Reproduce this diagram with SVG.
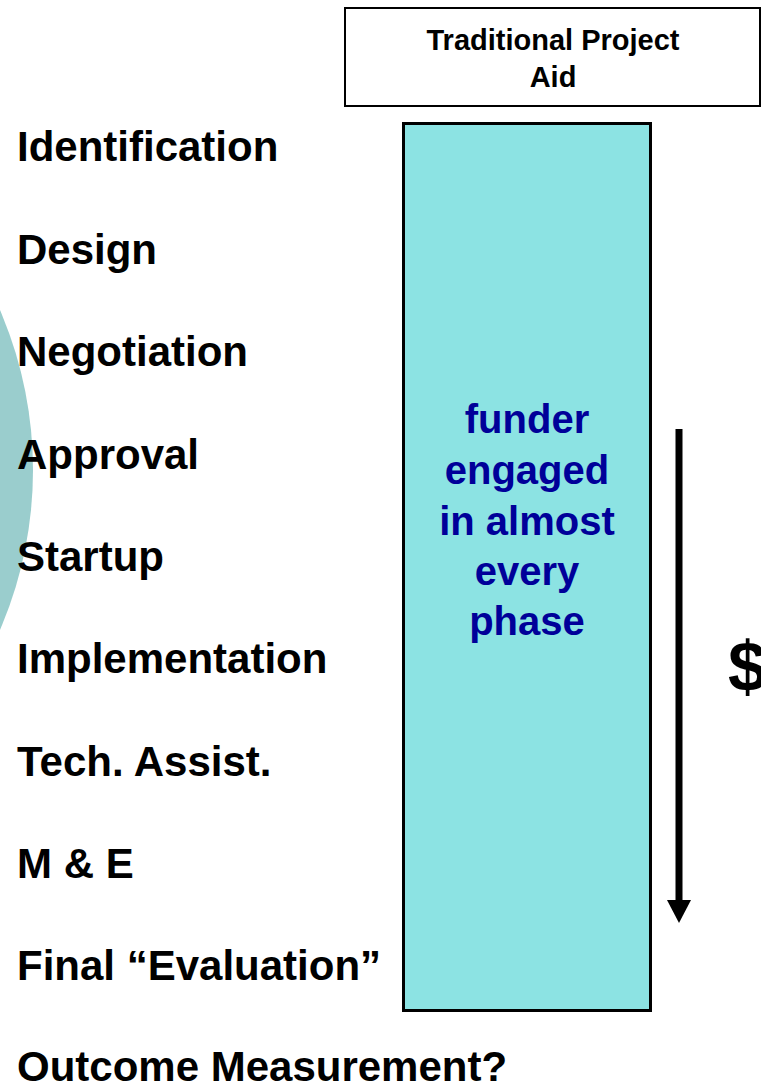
<svg xmlns="http://www.w3.org/2000/svg" width="761" height="1086" viewBox="0 0 761 1086">
<style>
.lbl{font-family:"Liberation Sans",Arial,sans-serif;font-weight:bold;font-size:42px;fill:#000}
.ttl{font-family:"Liberation Sans",Arial,sans-serif;font-weight:bold;font-size:29px;fill:#000;text-anchor:middle}
.ctr{font-family:"Liberation Sans",Arial,sans-serif;font-weight:bold;font-size:40px;fill:#000099;text-anchor:middle}
.dollar{font-family:"Liberation Sans",Arial,sans-serif;font-weight:bold;font-size:70px;fill:#000}
</style>
<rect width="761" height="1086" fill="#fff"/>
<g id="circle"><circle cx="-371" cy="470" r="404" fill="#9ACDCD"/></g>
<g id="title-box">
<rect x="345" y="8" width="415" height="98" fill="#fff" stroke="#000" stroke-width="2"/>
<text class="ttl" x="553" y="50">Traditional Project</text>
<text class="ttl" x="553" y="87">Aid</text>
</g>
<g id="phases">
<text class="lbl" x="17" y="161">Identification</text>
<text class="lbl" x="17" y="264">Design</text>
<text class="lbl" x="17" y="366">Negotiation</text>
<text class="lbl" x="17" y="469">Approval</text>
<text class="lbl" x="17" y="571">Startup</text>
<text class="lbl" x="17" y="673">Implementation</text>
<text class="lbl" x="17" y="776">Tech. Assist.</text>
<text class="lbl" x="17" y="878">M &amp; E</text>
<text class="lbl" x="17" y="980">Final “Evaluation”</text>
<text class="lbl" x="17" y="1081">Outcome Measurement?</text>
</g>
<g id="funder-bar">
<rect x="403.5" y="123.5" width="247" height="887" fill="#8CE3E3" stroke="#000" stroke-width="3"/>
<text class="ctr" x="527" y="433">funder</text>
<text class="ctr" x="527" y="484">engaged</text>
<text class="ctr" x="527" y="535">in almost</text>
<text class="ctr" x="527" y="585">every</text>
<text class="ctr" x="527" y="635">phase</text>
</g>
<g id="connectors">
<line x1="679" y1="429" x2="679" y2="902" stroke="#000" stroke-width="7"/>
<polygon points="667,900 691,900 679,923" fill="#000"/>
</g>
<g id="dollar"><text class="dollar" x="728" y="691">$</text></g>
</svg>
